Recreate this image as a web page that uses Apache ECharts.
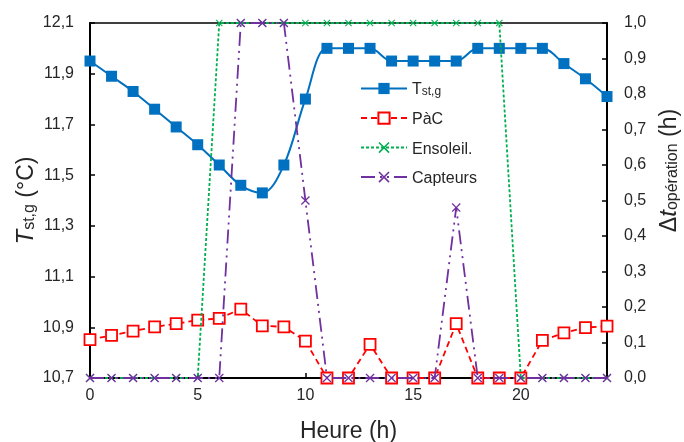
<!DOCTYPE html>
<html><head><meta charset="utf-8">
<script src="https://cdn.jsdelivr.net/npm/echarts@6/dist/echarts.min.js"></script>
<style>html,body{margin:0;padding:0;background:#fff}#c{width:684px;height:442px}</style>
</head><body><div id="c"></div>
<script>
const hours = [0,1,2,3,4,5,6,7,8,9,10,11,12,13,14,15,16,17,18,19,20,21,22,23,24];
const tstg = [11.95,11.89,11.83,11.76,11.69,11.62,11.54,11.46,11.43,11.54,11.80,12.00,12.00,12.00,11.95,11.95,11.95,11.95,12.00,12.00,12.00,12.00,11.94,11.88,11.81];
const pac = [0.108,0.12,0.132,0.144,0.153,0.163,0.168,0.194,0.147,0.144,0.104,0,0,0.095,0,0,0,0.153,0,0,0,0.106,0.127,0.142,0.146];
const ensoleil = [0,0,0,0,0,0,1,1,1,1,1,1,1,1,1,1,1,1,1,1,0,0,0,0,0];
const capteurs = [0,0,0,0,0,0,0,1,1,1,0.5,0,0,0,0,0,0,0.48,0,0,0,0,0,0,0];
const xTicks = [0,5,10,15,20];
const leftTicks = [10.7,10.9,11.1,11.3,11.5,11.7,11.9,12.1];

const pairs = arr => hours.map((h,i)=>[h,arr[i]]);
const FONT = 'Liberation Sans';
const TXT = '#262626';
const crossPath = 'path://M0,1 L1,0 L5,4 L9,0 L10,1 L6,5 L10,9 L9,10 L5,6 L1,10 L0,9 L4,5 Z';
const comma = v => v.toFixed(1).replace('.', ',');
const nameRich = {
  it:{fontFamily:FONT,fontSize:24,fontStyle:'italic',color:TXT,verticalAlign:'bottom',lineHeight:26},
  sub:{fontFamily:FONT,fontSize:16,color:TXT,verticalAlign:'bottom',lineHeight:20},
  n:{fontFamily:FONT,fontSize:23,color:TXT,verticalAlign:'bottom',lineHeight:26}
};

const chart = echarts.init(document.getElementById('c'), null, {renderer:'canvas'});
chart.setOption({
  animation:false,
  backgroundColor:'#fff',
  grid:{left:90,right:77,top:23,bottom:64,containLabel:false,outerBoundsMode:'none',show:true,borderColor:'#000',borderWidth:1.5,backgroundColor:'transparent'},
  xAxis:{type:'value',min:0,max:24,
    name:'Heure (h)',nameLocation:'middle',nameGap:42,
    nameTextStyle:{fontFamily:FONT,fontSize:23,color:TXT},
    axisLine:{show:true,onZero:false,lineStyle:{color:'#000',width:2}},
    axisTick:{show:true,inside:true,length:5,customValues:xTicks,lineStyle:{color:'#000',width:1.5}},
    axisLabel:{customValues:xTicks,fontFamily:FONT,fontSize:16,color:TXT,margin:10},
    splitLine:{show:false}},
  yAxis:[{type:'value',min:10.7,max:12.1,position:'left',
    name:'{it|T}{sub|st,g}{n| (°C)}',nameLocation:'middle',nameRotate:90,nameGap:52,nameMoveOverlap:false,
    nameTextStyle:{fontFamily:FONT,color:TXT,rich:nameRich},
    axisLine:{show:true,lineStyle:{color:'#000',width:2}},
    axisTick:{show:true,inside:true,length:5,customValues:leftTicks,lineStyle:{color:'#000',width:1.5}},
    axisLabel:{customValues:leftTicks,formatter:v=>comma(v),fontFamily:FONT,fontSize:16,color:TXT,margin:16},
    splitLine:{show:false}},
   {type:'value',min:0,max:1,interval:0.1,position:'right',
    name:'{n|Δ}{it|t}{sub|opération}{n| (h)}',nameLocation:'middle',nameRotate:90,nameGap:48,nameMoveOverlap:false,
    nameTextStyle:{fontFamily:FONT,color:TXT,rich:nameRich,padding:[0,0,0,60]},
    axisLine:{show:true,lineStyle:{color:'#000',width:2}},
    axisTick:{show:true,inside:true,length:5,lineStyle:{color:'#000',width:1.5}},
    axisLabel:{formatter:v=>comma(v),fontFamily:FONT,fontSize:16,color:TXT,margin:17},
    splitLine:{show:false}}],
  legend:{orient:'vertical',left:355,top:77,itemWidth:46,itemHeight:14,itemGap:13.5,
    data:['Tst,g','PàC','Ensoleil.','Capteurs'],
    formatter:n=> n==='Tst,g' ? '{t|T}{s|st,g}' : '{t|'+n+'}',
    textStyle:{fontFamily:FONT,color:TXT,rich:{
      t:{fontFamily:FONT,fontSize:16,color:TXT,verticalAlign:'bottom',lineHeight:19},
      s:{fontFamily:FONT,fontSize:12,color:TXT,verticalAlign:'bottom',lineHeight:12}}}},
  series:[
    {name:'Tst,g',type:'line',yAxisIndex:0,data:pairs(tstg),symbol:'rect',symbolSize:11,smooth:0.35,
      lineStyle:{color:'#0070C0',width:2},itemStyle:{color:'#0070C0'},z:2},
    {name:'PàC',type:'line',yAxisIndex:1,data:pairs(pac),symbol:'rect',symbolSize:11,
      lineStyle:{color:'#FF0000',width:1.8,type:[6,4]},itemStyle:{color:'#fff',borderColor:'#FF0000',borderWidth:1.8},z:3},
    {name:'Ensoleil.',type:'line',yAxisIndex:1,data:pairs(ensoleil),symbol:crossPath,symbolSize:7,
      lineStyle:{color:'#00B050',width:1.8,type:[3,2]},itemStyle:{color:'#00B050'},z:4},
    {name:'Capteurs',type:'line',yAxisIndex:1,data:pairs(capteurs),symbol:crossPath,symbolSize:9,
      lineStyle:{color:'#7030A0',width:1.8,type:[14,5,2,5,2,5]},itemStyle:{color:'#7030A0'},z:5}
  ]
});
</script></body></html>
